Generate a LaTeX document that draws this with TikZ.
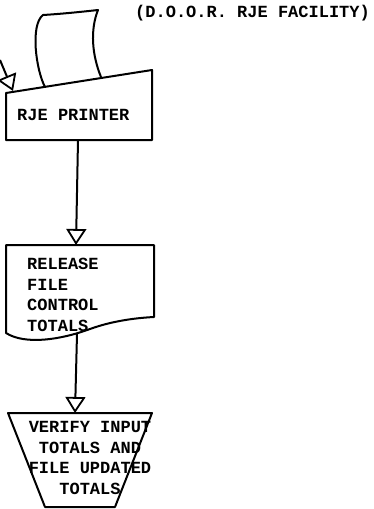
\documentclass[tikz,border=0pt]{standalone}
\usepackage{fontspec}
\setmonofont{Liberation Mono}
\usetikzlibrary{arrows.meta, positioning}

\begin{document}
\begin{tikzpicture}[
        x=1pt, y=-1pt,
        % Line and text styles
        shapeline/.style={draw=black, line width=2pt, line join=round},
        boxtext/.style={font=\ttfamily\bfseries\fontsize{17}{20.5}\selectfont, inner sep=0pt},
        arrow/.style={draw, line width=2pt, -{Triangle[open, width=20pt, length=16pt, line width=1.8pt]}}
    ]
    \useasboundingbox (0,0) rectangle (374,509);

    % --- HEADING ---
    \node (facility) [boxtext, anchor=west] at (135,13) {(D.O.O.R. RJE FACILITY)};

    % --- PRINTER WITH PAPER ---
    \coordinate (prn-nw) at (6,93);
    \coordinate (prn-ne) at (152,70);
    \coordinate (prn-se) at (152,140);
    \coordinate (prn-sw) at (6,140);
    \coordinate (prn-s) at (78,140);
    \draw [shapeline] (prn-nw) -- (prn-ne) -- (prn-se) -- (prn-sw) -- cycle;
    \draw [shapeline] (45,87) .. controls (36,70) and (30,25) .. (43,15)
        .. controls (60,14) and (80,12) .. (98,10)
        .. controls (90,30) and (92,55) .. (101,77);
    \node (printer) [boxtext, anchor=west] at (17,115) {RJE PRINTER};

    % --- INCOMING ARROW FROM THE LEFT ---
    \coordinate (feed) at (0,60);
    \coordinate (prn-in) at (13,91);
    \draw [arrow] (feed) -- (prn-in);

    % --- RELEASE FILE CONTROL TOTALS (DOCUMENT) ---
    \coordinate (rel-n) at (76,245);
    \coordinate (rel-s) at (77,334);
    \draw [shapeline] (6,245) -- (154,245) -- (154,317)
        .. controls (135,318) and (112,321) .. (90,329)
        .. controls (60,340) and (25,345) .. (6,333) -- cycle;
    \node (release) [boxtext, anchor=north west, align=left] at (27,258)
        {RELEASE\\FILE\\CONTROL\\TOTALS};

    % --- VERIFY TOTALS (MANUAL OPERATION) ---
    \coordinate (ver-n) at (75,413);
    \draw [shapeline] (8,413) -- (152,413) -- (115,507) -- (45,507) -- cycle;
    \node (verify) [boxtext, align=center] at (90,458)
        {VERIFY INPUT\\TOTALS AND\\FILE UPDATED\\TOTALS};

    % --- CONNECTING ARROWS ---
    \draw [arrow] (prn-s) -- (rel-n);
    \draw [arrow] (rel-s) -- (ver-n);

\end{tikzpicture}
\end{document}
